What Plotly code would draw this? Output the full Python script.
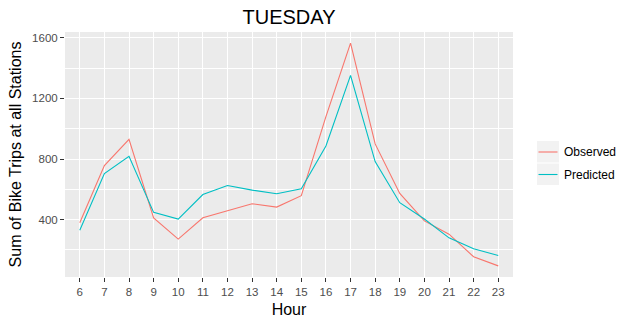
import plotly.graph_objects as go

hours = list(range(6, 24))
observed = [380, 757, 930, 411, 272, 412, 459, 505, 483, 558, 1080, 1565, 900, 573, 392, 304, 155, 95]
predicted = [330, 704, 818, 448, 404, 566, 625, 595, 571, 604, 886, 1352, 783, 512, 404, 280, 208, 164]
series_names = ["Observed", "Predicted"]
series_colors = ["#F8766D", "#00BFC4"]
y_ticks = [400, 800, 1200, 1600]

FONT = "Liberation Sans, Arial, sans-serif"

fig = go.Figure()
for name, vals, col in zip(series_names, [observed, predicted], series_colors):
    fig.add_trace(go.Scatter(x=hours, y=vals, mode="lines", name=name,
                             line=dict(color=col, width=1.1), showlegend=False))

allv = observed + predicted
lo, hi = min(allv), max(allv)
pad = 0.05 * (hi - lo)

L, R, T, B = 65, 117, 32, 45
W, H = 630, 322
pw, ph = W - L - R, H - T - B

def px2paper(x, y):
    return (x - L) / pw, (H - B - y) / ph

# Legend (drawn manually, ggplot-style keys)
shapes, annotations = [], []
for i, (name, col) in enumerate(zip(series_names, series_colors)):
    top = 141 + i * 22.5
    x0, y0 = px2paper(537, top)
    x1, y1 = px2paper(559, top + 21.5)
    shapes.append(dict(type="rect", xref="paper", yref="paper", x0=x0, x1=x1,
                       y0=y1, y1=y0, fillcolor="#F2F2F2", line=dict(width=0)))
    lx0, ly = px2paper(538.5, top + 11)
    lx1, _ = px2paper(557.5, top + 11)
    shapes.append(dict(type="line", xref="paper", yref="paper", x0=lx0, x1=lx1,
                       y0=ly, y1=ly, line=dict(color=col, width=1.1)))
    tx, _ = px2paper(562, 0)
    annotations.append(dict(text=name, xref="paper", yref="paper", x=tx, y=ly,
                            xanchor="left", yanchor="middle", showarrow=False,
                            font=dict(size=12, color="black", family=FONT)))

fig.update_layout(
    width=W, height=H,
    margin=dict(l=L, r=R, t=T, b=B, autoexpand=False),
    paper_bgcolor="white",
    plot_bgcolor="#EBEBEB",
    font=dict(family=FONT, color="black"),
    title=dict(text="TUESDAY", x=0.5, xref="paper", xanchor="center",
               y=1 - 17 / H, yref="container", yanchor="middle",
               font=dict(size=20, color="black", family=FONT)),
    showlegend=False,
    shapes=shapes,
    annotations=annotations,
    xaxis=dict(range=[5.4, 23.6], tickmode="array", tickvals=hours,
               ticktext=[str(h) for h in hours], automargin=False,
               showgrid=True, gridcolor="white", gridwidth=1.1,
               zeroline=False, ticks="outside", ticklen=4, tickcolor="#333333",
               tickwidth=1, tickfont=dict(size=11.5, color="#4D4D4D", family=FONT),
               title=dict(text="Hour", font=dict(size=16, color="black", family=FONT),
                          standoff=7),
               showline=False),
    yaxis=dict(range=[lo - pad, hi + pad], tickmode="array", tickvals=y_ticks,
               ticktext=[str(v) for v in y_ticks], automargin=False,
               showgrid=True, gridcolor="white", gridwidth=1.1,
               minor=dict(dtick=200, tick0=0, showgrid=True, gridcolor="white",
                          gridwidth=0.5, ticks=""),
               zeroline=False, ticks="outside", ticklen=4, tickcolor="#333333",
               tickwidth=1, tickfont=dict(size=11.5, color="#4D4D4D", family=FONT),
               title=dict(text="Sum of Bike Trips at all Stations",
                          font=dict(size=16, color="black", family=FONT),
                          standoff=6),
               showline=False),
)

fig.write_html("out.html")
